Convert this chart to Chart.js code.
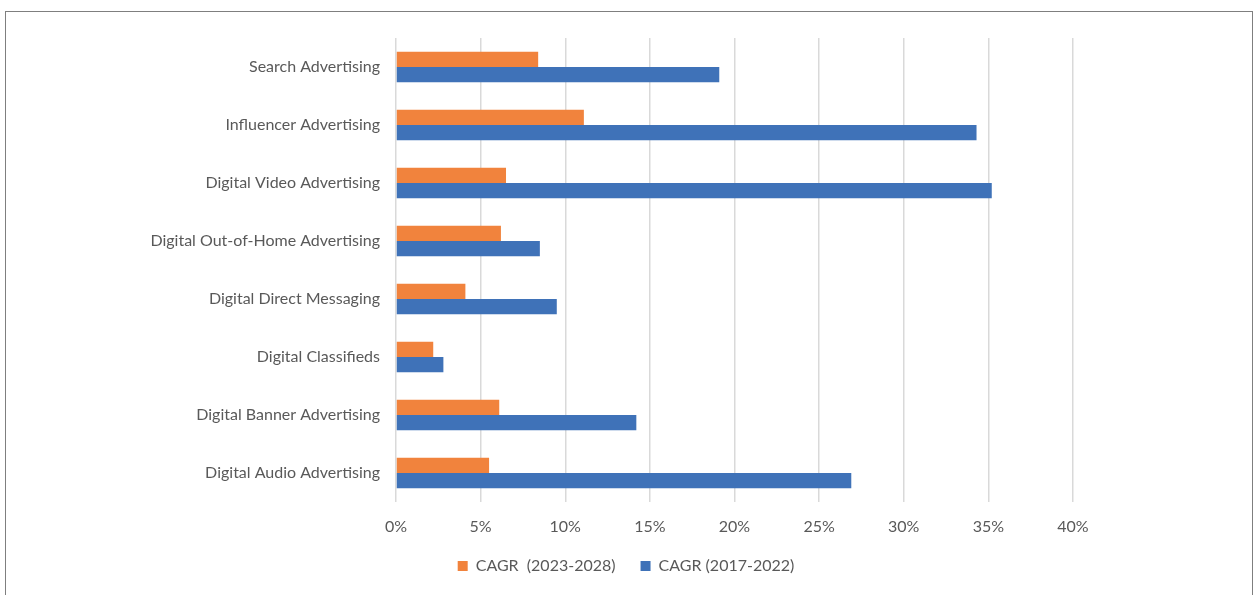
<!DOCTYPE html>
<html>
<head>
<meta charset="utf-8">
<script src="https://cdn.jsdelivr.net/npm/chart.js@4.4.0/dist/chart.umd.min.js"></script>
<style>
  html, body { margin: 0; padding: 0; background: #ffffff; overflow: hidden; }
  #moldura {
    position: absolute;
    left: 5px;
    top: 11px;
    width: 1246px;
    height: 600px;
    border: 1px solid #7f7f7f;
  }
  #cagr-canal { display: block; }
</style>
</head>
<body>
<div id="moldura">
  <canvas id="cagr-canal" width="1246" height="583"></canvas>
</div>
<script>
const categorias = [
  "Search Advertising",
  "Influencer Advertising",
  "Digital Video Advertising",
  "Digital Out-of-Home Advertising",
  "Digital Direct Messaging",
  "Digital Classifieds",
  "Digital Banner Advertising",
  "Digital Audio Advertising",
];
const cagr_2023_2028 = [8.4, 11.1, 6.5, 6.2, 4.1, 2.2, 6.1, 5.5];
const cagr_2017_2022 = [19.1, 34.3, 35.2, 8.5, 9.5, 2.8, 14.2, 26.9];
const ticks_x = [0, 5, 10, 15, 20, 25, 30, 35, 40];

const cagr_canal = document.getElementById("cagr-canal");
const cor_texto = "#595959";
const fonte = { family: "Lato, 'Noto Sans', sans-serif", size: 16 };

new Chart(cagr_canal, {
  type: "bar",
  data: {
    labels: categorias,
    datasets: [
      {
        label: "CAGR  (2023-2028)",
        data: cagr_2023_2028,
        backgroundColor: "#F1833D",
        borderWidth: 0,
      },
      {
        label: "CAGR (2017-2022)",
        data: cagr_2017_2022,
        backgroundColor: "#3F72B8",
        borderWidth: 0,
      },
    ],
  },
  options: {
    indexAxis: "y",
    responsive: false,
    animation: false,
    categoryPercentage: 0.53,
    barPercentage: 1.0,
    layout: {
      padding: { top: 26, right: 6, left: 0, bottom: 11 },
    },
    scales: {
      x: {
        min: 0,
        max: 40,
        afterBuildTicks: function (scale) {
          scale.ticks = ticks_x.map((v) => ({ value: v }));
        },
        afterFit: function (scale) {
          scale.height = 31;
        },
        grid: {
          color: "#d9d9d9",
          lineWidth: 1.5,
          drawTicks: false,
        },
        border: { display: false },
        ticks: {
          color: cor_texto,
          font: fonte,
          padding: 15,
          callback: function (val) {
            return val + "%";
          },
        },
      },
      y: {
        afterFit: function (scale) {
          scale.width = 390;
        },
        grid: { display: false },
        border: { display: false },
        ticks: {
          color: cor_texto,
          font: fonte,
          padding: 8,
        },
      },
      // eixo vazio a direita so para reservar a margem
      y2: {
        type: "category",
        position: "right",
        labels: categorias,
        afterFit: function (scale) {
          scale.width = 173;
        },
        grid: { display: false },
        border: { display: false },
        ticks: { display: false },
      },
    },
    plugins: {
      legend: {
        position: "bottom",
        labels: {
          color: cor_texto,
          font: fonte,
          boxWidth: 10,
          boxHeight: 10,
          padding: 25,
        },
      },
      tooltip: { enabled: false },
    },
  },
});
</script>
</body>
</html>
